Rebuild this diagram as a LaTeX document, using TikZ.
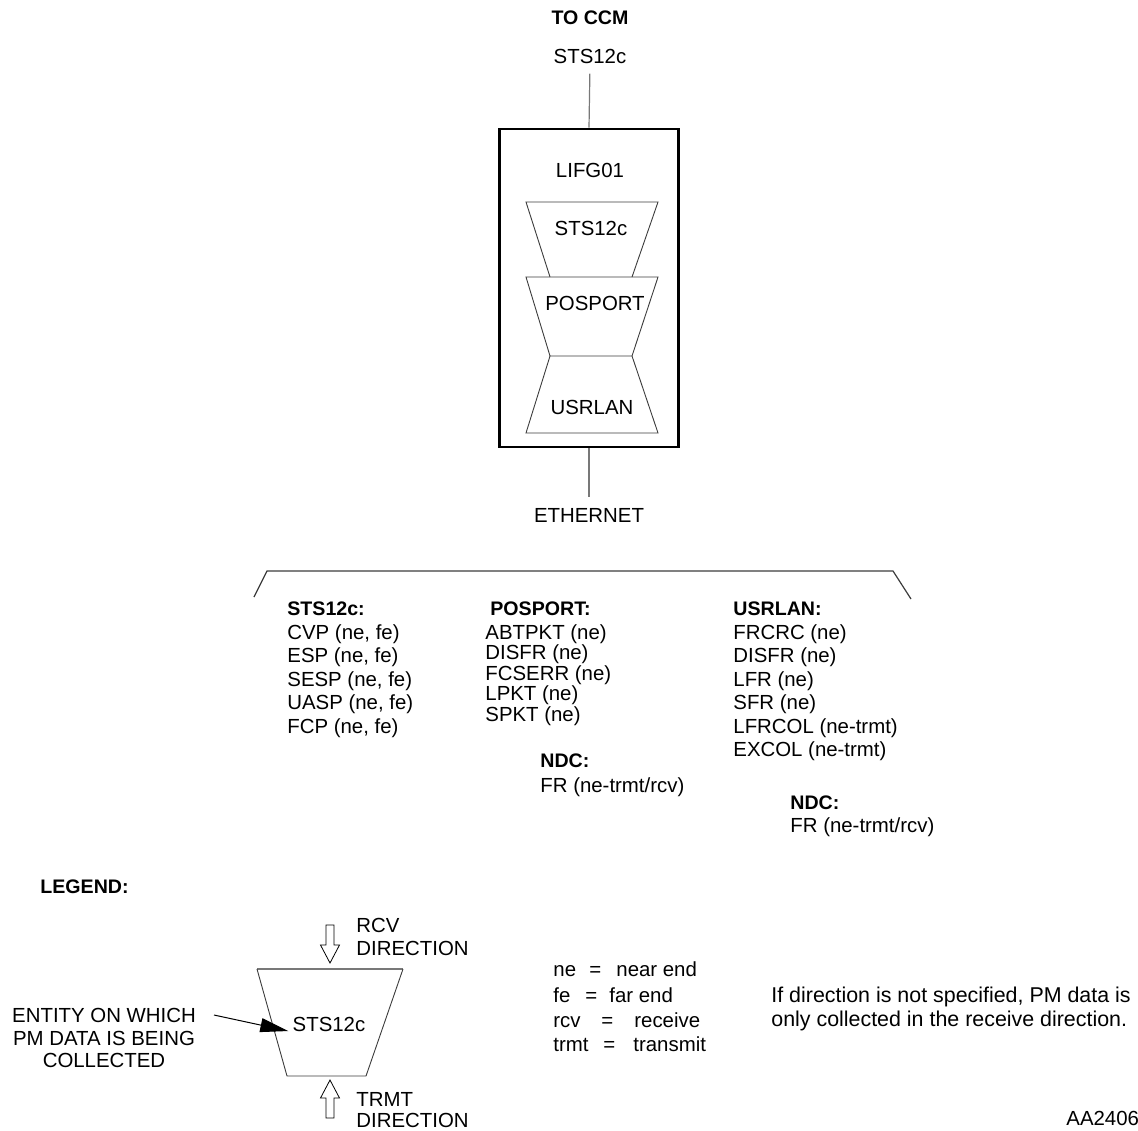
\documentclass[tikz,border=0pt]{standalone}
\usepackage{fontspec}
\setmainfont{Liberation Sans}
\usetikzlibrary{arrows.meta, positioning, calc}
\definecolor{wiregray}{RGB}{120,120,120}
\definecolor{linegray}{RGB}{60,60,60}

\tikzset{
	txt/.style={inner sep=0pt, font=\fontsize{10.2}{11.5}\selectfont},
	hdr/.style={inner sep=0pt, font=\fontsize{9.8}{11.5}\selectfont\bfseries},
	wire/.style={draw=wiregray, line width=0.6pt},
	trap/.style={draw=linegray, line width=0.45pt},
	openarrow/.pic={\draw[black, line width=0.4pt, fill=white]
		(-4,0)--(4,0)--(4,20)--(9.5,20)--(0,38)--(-9.5,20)--(-4,20)--cycle;}
}

\begin{document}
\begin{tikzpicture}[x=0.5pt, y=-0.5pt]
\useasboundingbox (0,0) rectangle (1138,1130);

% feed to the CCM and the card
\node[hdr] (toccm) at (590,18) {TO CCM};
\node[txt] (stsin) at (590,56) {STS12c};
\node[draw, line width=1.3pt, minimum width=89.5pt, minimum height=159pt, inner sep=0pt] (lifg) at (589,288) {};
\node[txt] (eth) at (589,515) {ETHERNET};
\draw[wire, shorten <=5pt] (stsin.south) -- (lifg.north);
\draw[wire, shorten >=5.5pt] (lifg.south) -- (eth.north);

% entities on the card
\node[txt] (lifgname) at (590,170) {LIFG01};
\draw[trap] (550,277) -- (526,202) -- (658,202) -- (632,277);
\draw[trap] (526,277) -- (658,277) -- (632,356) -- (550,356) -- cycle;
\draw[trap] (550,356) -- (526,433) -- (658,433) -- (632,356);
\node[txt] (stsent) at (591,228) {STS12c};
\node[txt] (posent) at (595,303) {POSPORT};
\node[txt] (usrent) at (592,407) {USRLAN};

% PM registers
\draw[draw=linegray, line width=0.6pt] (254,597) -- (267,571) -- (893,571) -- (911,599);

\node[hdr, anchor=base west] (stshdr) at (287,615) {STS12c:};
\foreach \t [count=\i from 0] in {{CVP (ne, fe)},{ESP (ne, fe)},{SESP (ne, fe)},{UASP (ne, fe)},{FCP (ne, fe)}}
	\node[txt, anchor=base west] (stsreg\i) at (287,{639+23.5*\i}) {\t};

\node[hdr, anchor=base west] (poshdr) at (490,615) {POSPORT:};
\foreach \t [count=\i from 0] in {ABTPKT (ne),DISFR (ne),FCSERR (ne),LPKT (ne),SPKT (ne)}
	\node[txt, anchor=base west] (posreg\i) at (485,{639+20.5*\i}) {\t};
\node[hdr, anchor=base west] (posndc) at (540,767) {NDC:};
\node[txt, anchor=base west] (posfr) at (540,792) {FR (ne-trmt/rcv)};

\node[hdr, anchor=base west] (usrhdr) at (733,615) {USRLAN:};
\foreach \t [count=\i from 0] in {FRCRC (ne),DISFR (ne),LFR (ne),SFR (ne),LFRCOL (ne-trmt),EXCOL (ne-trmt)}
	\node[txt, anchor=base west] (usrreg\i) at (733,{639+23.5*\i}) {\t};
\node[hdr, anchor=base west] (usrndc) at (790,809) {NDC:};
\node[txt, anchor=base west] (usrfr) at (790,832) {FR (ne-trmt/rcv)};

% legend
\node[hdr, anchor=base west] (legend) at (40,893) {LEGEND:};
\draw[draw=wiregray, line width=0.6pt] (257,969) -- (403,969);
\draw[trap] (257,969) -- (287,1076) -- (366,1076) -- (403,969);
\node[txt, inner sep=2pt] (legsts) at (329,1024) {STS12c};
\pic at (330,925) {openarrow};
\pic[rotate=180] at (330,1118) {openarrow};
\node[txt, anchor=base west] (rcvtop) at (356,932) {RCV};
\node[txt, anchor=base west] (rcvbot) at (356,955) {DIRECTION};
\node[txt, anchor=base west] (trmttop) at (356,1106) {TRMT};
\node[txt, anchor=base west] (trmtbot) at (356,1127) {DIRECTION};

\node[txt, align=center, font=\fontsize{10.2}{11.25}\selectfont] (entity) at (104,1038) {ENTITY ON WHICH\\PM DATA IS BEING\\COLLECTED};
\coordinate (entitytail) at (214,1015);
\draw[line width=0.5pt, -{Triangle[length=14pt, width=7pt]}] (entitytail) -- (legsts.base west);

\foreach \ab/\me/\yy/\ex/\mx [count=\i] in {ne/near end/976/589/616, fe/far end/1002/585/609, rcv/receive/1027/601/634, trmt/transmit/1051/603/633}{
	\node[txt, anchor=base west] (abbr\i) at (553,\yy) {\ab};
	\node[txt, anchor=base west] (eq\i) at (\ex,\yy) {=};
	\node[txt, anchor=base west] (mean\i) at (\mx,\yy) {\me};
}

\node[txt, align=left, anchor=west, font=\fontsize{10.7}{12}\selectfont] (note) at (771,1009) {If direction is not specified, PM data is\\only collected in the receive direction.};
\node[txt, anchor=base west] (figid) at (1066,1125) {AA2406};
\end{tikzpicture}
\end{document}
